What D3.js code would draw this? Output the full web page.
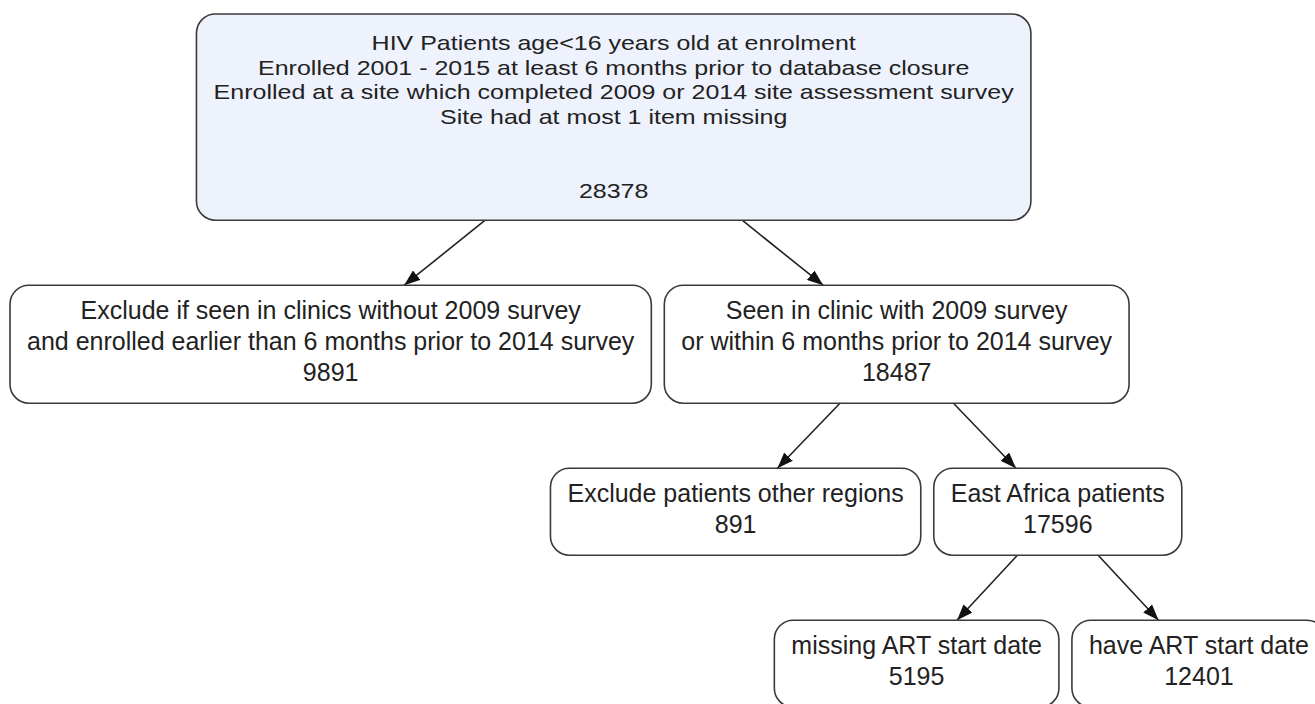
<!DOCTYPE html>
<html>
<head>
<meta charset="utf-8">
<script src="https://cdn.jsdelivr.net/npm/d3@7"></script>
<style>
  body { margin: 0; background: #fff; }
  svg { display: block; font-family: "Liberation Sans", Arial, sans-serif; }
</style>
</head>
<body>
<svg width="1315" height="704"></svg>
<script>
// flowchart data: one entry per box, parent gives the arrow into it
const nodeIds = ["all", "exclSurvey", "seen", "exclRegion", "eastAfrica", "missingArt", "haveArt"];
const nodeParents = [null, "all", "all", "seen", "seen", "eastAfrica", "eastAfrica"];
const nodeLabels = [
  [
    "HIV Patients age<16 years old at enrolment",
    "Enrolled 2001 - 2015 at least 6 months prior to database closure",
    "Enrolled at a site which completed 2009 or 2014 site assessment survey",
    "Site had at most 1 item missing",
    "",
    "",
  ],
  ["Exclude if seen in clinics without 2009 survey", "and enrolled earlier than 6 months prior to 2014 survey"],
  ["Seen in clinic with 2009 survey", "or within 6 months prior to 2014 survey"],
  ["Exclude patients other regions"],
  ["East Africa patients"],
  ["missing ART start date"],
  ["have ART start date"],
];
const nodeCounts = [28378, 9891, 18487, 891, 17596, 5195, 12401];

const svg = d3.select("svg");

const FONT_SIZE = 25;
const ROOT_FONT = 21;    // top box text is shorter but just as wide
const PAD_X = 17;        // space left and right of the widest line
const SIB_GAP = 13;      // gap between two boxes of one parent
const RANK_GAP = 65;     // vertical gap between ranks
const MARGIN_LEFT = 10;
const MARGIN_TOP = 14;

const rows = nodeIds.map((id, i) => ({
  id,
  parent: nodeParents[i],
  lines: [...nodeLabels[i], String(nodeCounts[i])],
}));

const root = d3
  .stratify()
  .id((d) => d.id)
  .parentId((d) => d.parent)(rows);

// measure each box from its text
const probe = svg.append("text").attr("font-size", FONT_SIZE);
root.each((d) => {
  d.w =
    d3.max(d.data.lines, (t) => {
      probe.text(t || " ");
      return probe.node().getComputedTextLength();
    }) +
    2 * PAD_X;
  d.lh = d.depth === 0 ? 24.7 : 31;
  d.first = d.depth === 0 ? 36 : 34;
  d.h = d.first + (d.data.lines.length - 1) * d.lh + 22;
  d.fs = d.depth === 0 ? ROOT_FONT : FONT_SIZE;
});
probe.remove();

// horizontal: children side by side, parent centred between their centres
function place(node, cx) {
  node.cx = cx;
  if (!node.children) return;
  const [a, b] = node.children;
  const span = a.w / 2 + SIB_GAP + b.w / 2;
  place(a, cx - span / 2);
  place(b, cx + span / 2);
}
place(root, 0);
const shift = MARGIN_LEFT - d3.min(root.descendants(), (d) => d.cx - d.w / 2);
root.each((d) => (d.cx += shift));

// vertical: one row per depth
const rankHeights = d3.rollup(root.descendants(), (v) => d3.max(v, (d) => d.h), (d) => d.depth);
const rankTop = [MARGIN_TOP];
for (let r = 1; r <= root.height; r++) rankTop[r] = rankTop[r - 1] + rankHeights.get(r - 1) + RANK_GAP;
root.each((d) => {
  d.x0 = d.cx - d.w / 2;
  d.y0 = rankTop[d.depth];
  d.cy = d.y0 + d.h / 2;
});

// arrow head
svg
  .append("defs")
  .append("marker")
  .attr("id", "arrowhead")
  .attr("markerUnits", "userSpaceOnUse")
  .attr("viewBox", "0 0 16 12")
  .attr("refX", 16)
  .attr("refY", 6)
  .attr("markerWidth", 16)
  .attr("markerHeight", 12)
  .attr("orient", "auto")
  .append("path")
  .attr("d", "M0,0 L16,6 L0,12 Z")
  .attr("fill", "#111");

// edges run along the centre-to-centre line, cut at the box borders
const alongY = (s, t, y) => s.cx + ((y - s.cy) / (t.cy - s.cy)) * (t.cx - s.cx);
svg
  .append("g")
  .attr("class", "links")
  .selectAll("line")
  .data(root.links())
  .join("line")
  .attr("x1", (d) => alongY(d.source, d.target, d.source.y0 + d.source.h))
  .attr("y1", (d) => d.source.y0 + d.source.h)
  .attr("x2", (d) => alongY(d.source, d.target, d.target.y0))
  .attr("y2", (d) => d.target.y0)
  .attr("stroke", "#222")
  .attr("stroke-width", 1.6)
  .attr("marker-end", "url(#arrowhead)");

const node = svg
  .append("g")
  .attr("class", "nodes")
  .selectAll("g")
  .data(root.descendants())
  .join("g")
  .attr("transform", (d) => `translate(${d.x0},${d.y0})`);

node
  .append("rect")
  .attr("width", (d) => d.w)
  .attr("height", (d) => d.h)
  .attr("rx", 19)
  .attr("ry", 19)
  .attr("fill", (d) => (d.depth === 0 ? "#eef2fc" : "#fff"))
  .attr("stroke", "#3a3a3a")
  .attr("stroke-width", 1.6);

node
  .append("text")
  .attr("font-size", (d) => d.fs)
  .attr("fill", "#222")
  .attr("text-anchor", "middle")
  .attr("transform", (d) => `translate(${d.w / 2},0) scale(${FONT_SIZE / d.fs},1)`)
  .selectAll("tspan")
  .data((d) => d.data.lines.map((t, i) => ({ t, y: d.first + i * d.lh })))
  .join("tspan")
  .attr("x", 0)
  .attr("y", (l) => l.y)
  .text((l) => l.t);
</script>
</body>
</html>
